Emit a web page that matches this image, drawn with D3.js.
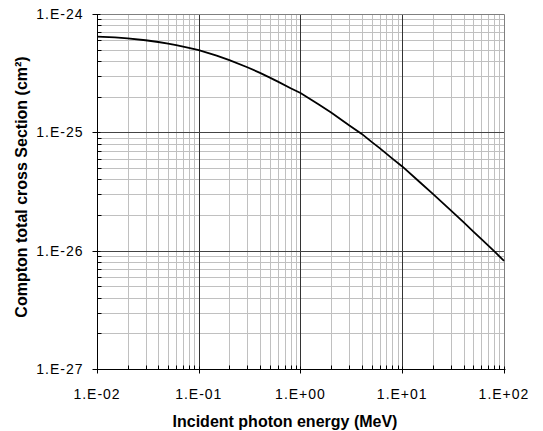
<html>
<head>
  <script src="https://cdn.jsdelivr.net/npm/d3@7/dist/d3.min.js"></script>
</head>
<style>
  body { margin: 0; background: #fff; }
  text { font-family: "Liberation Sans", Arial, sans-serif; fill: #000; }
</style>
<body>
  <svg id="chart" width="543" height="431"></svg>
  <script>
    // photon energy (MeV) and Compton total cross section (cm2)
    var energy = [0.01, 0.015, 0.02, 0.03, 0.04, 0.05, 0.06, 0.08, 0.1, 0.15, 0.2, 0.3, 0.4, 0.5, 0.6, 0.8,
                  1, 1.5, 2, 3, 4, 5, 6, 8, 10, 15, 20, 30, 40, 50, 60, 80, 100];
    var sigma = [6.45e-25, 6.35e-25, 6.22e-25, 6.0e-25, 5.8e-25, 5.62e-25, 5.46e-25, 5.18e-25, 4.96e-25,
                 4.45e-25, 4.08e-25, 3.55e-25, 3.18e-25, 2.90e-25, 2.68e-25, 2.36e-25,
                 2.15e-25, 1.73e-25, 1.47e-25, 1.15e-25, 9.7e-26, 8.3e-26, 7.35e-26, 6.0e-26, 5.15e-26,
                 3.77e-26, 3.02e-26, 2.19e-26, 1.74e-26, 1.45e-26, 1.25e-26, 9.9e-27, 8.2e-27];
    var xTicks = [1e-2, 1e-1, 1e0, 1e1, 1e2];
    var xTickLabels = ["1.E-02", "1.E-01", "1.E+00", "1.E+01", "1.E+02"];
    var yTicks = [1e-27, 1e-26, 1e-25, 1e-24];
    var yTickLabels = ["1.E-27", "1.E-26", "1.E-25", "1.E-24"];

    var pl = 97, pr = 504, pt = 14, pb = 369;
    var svg = d3.select('#chart');
    var x = d3.scaleLog().domain([1e-2, 1e2]).range([pl, pr]);
    var y = d3.scaleLog().domain([1e-27, 1e-24]).range([pb, pt]);
    function px(v) { return Math.round(v) + 0.5; }

    var isMajor = function (d) { return Math.abs(Math.log10(d) - Math.round(Math.log10(d))) < 1e-6; };
    var xMinor = x.ticks().filter(function (d) { return !isMajor(d); });
    var yMinor = y.ticks().filter(function (d) { return !isMajor(d); });

    //minor grid
    svg.selectAll('.xminor').data(xMinor).enter().append('line')
      .attr('x1', function (d) { return px(x(d)); }).attr('x2', function (d) { return px(x(d)); })
      .attr('y1', pt).attr('y2', pb)
      .attr('stroke', '#c0c0c0').attr('stroke-width', 1);
    svg.selectAll('.yminor').data(yMinor).enter().append('line')
      .attr('y1', function (d) { return px(y(d)); }).attr('y2', function (d) { return px(y(d)); })
      .attr('x1', pl).attr('x2', pr)
      .attr('stroke', '#c0c0c0').attr('stroke-width', 1);

    //major grid
    svg.selectAll('.xmajor').data(xTicks.slice(1, -1)).enter().append('line')
      .attr('x1', function (d) { return px(x(d)); }).attr('x2', function (d) { return px(x(d)); })
      .attr('y1', pt).attr('y2', pb)
      .attr('stroke', '#333').attr('stroke-width', 1);
    svg.selectAll('.ymajor').data(yTicks.slice(1, -1)).enter().append('line')
      .attr('y1', function (d) { return px(y(d)); }).attr('y2', function (d) { return px(y(d)); })
      .attr('x1', pl).attr('x2', pr)
      .attr('stroke', '#444').attr('stroke-width', 1);

    //top and right border
    svg.append('path')
      .attr('d', 'M' + px(pl) + ',' + px(pt) + 'H' + px(pr) + 'V' + px(pb))
      .attr('fill', 'none').attr('stroke', '#808080').attr('stroke-width', 1);

    //curve
    var pts = energy.map(function (e, i) { return [e, sigma[i]]; });
    svg.append('path')
      .datum(pts)
      .attr('d', d3.line().x(function (d) { return x(d[0]); }).y(function (d) { return y(d[1]); }))
      .attr('fill', 'none').attr('stroke', '#000').attr('stroke-width', 1.8);

    //axes
    var xAxis = svg.append('g').attr('transform', 'translate(0,' + px(pb) + ')');
    xAxis.append('line').attr('x1', px(pl)).attr('x2', px(pr) + 1).attr('stroke', '#000');
    xAxis.selectAll('.minor').data(xMinor).enter().append('line')
      .attr('x1', function (d) { return px(x(d)); }).attr('x2', function (d) { return px(x(d)); })
      .attr('y1', 0).attr('y2', -4).attr('stroke', '#000');
    xAxis.selectAll('.major').data(xTicks).enter().append('line')
      .attr('x1', function (d) { return px(x(d)); }).attr('x2', function (d) { return px(x(d)); })
      .attr('y1', -3).attr('y2', 4).attr('stroke', '#000');
    xAxis.selectAll('text').data(xTicks).enter().append('text')
      .attr('x', function (d) { return x(d); }).attr('y', 29)
      .attr('text-anchor', 'middle').attr('font-size', '14px').attr('letter-spacing', '1px')
      .text(function (d, i) { return xTickLabels[i]; });

    var yAxis = svg.append('g').attr('transform', 'translate(' + px(pl) + ',0)');
    yAxis.append('line').attr('y1', px(pt)).attr('y2', px(pb)).attr('stroke', '#000');
    yAxis.selectAll('.minor').data(yMinor).enter().append('line')
      .attr('y1', function (d) { return px(y(d)); }).attr('y2', function (d) { return px(y(d)); })
      .attr('x1', 0).attr('x2', 4).attr('stroke', '#000');
    yAxis.selectAll('.major').data(yTicks).enter().append('line')
      .attr('y1', function (d) { return px(y(d)); }).attr('y2', function (d) { return px(y(d)); })
      .attr('x1', -5).attr('x2', 3).attr('stroke', '#000');
    yAxis.selectAll('text').data(yTicks).enter().append('text')
      .attr('x', -14).attr('y', function (d) { return y(d) + 5; })
      .attr('text-anchor', 'end').attr('font-size', '14px').attr('letter-spacing', '1px')
      .text(function (d, i) { return yTickLabels[i]; });

    //titles
    svg.append('text')
      .attr('x', 285).attr('y', 427)
      .attr('text-anchor', 'middle').attr('font-size', '16px').attr('font-weight', 'bold')
      .text('Incident photon energy (MeV)');
    svg.append('text')
      .attr('transform', 'translate(27,187) rotate(-90)')
      .attr('text-anchor', 'middle').attr('font-size', '16px').attr('font-weight', 'bold')
      .text('Compton total cross Section (cm²)');
  </script>
</body>
</html>
